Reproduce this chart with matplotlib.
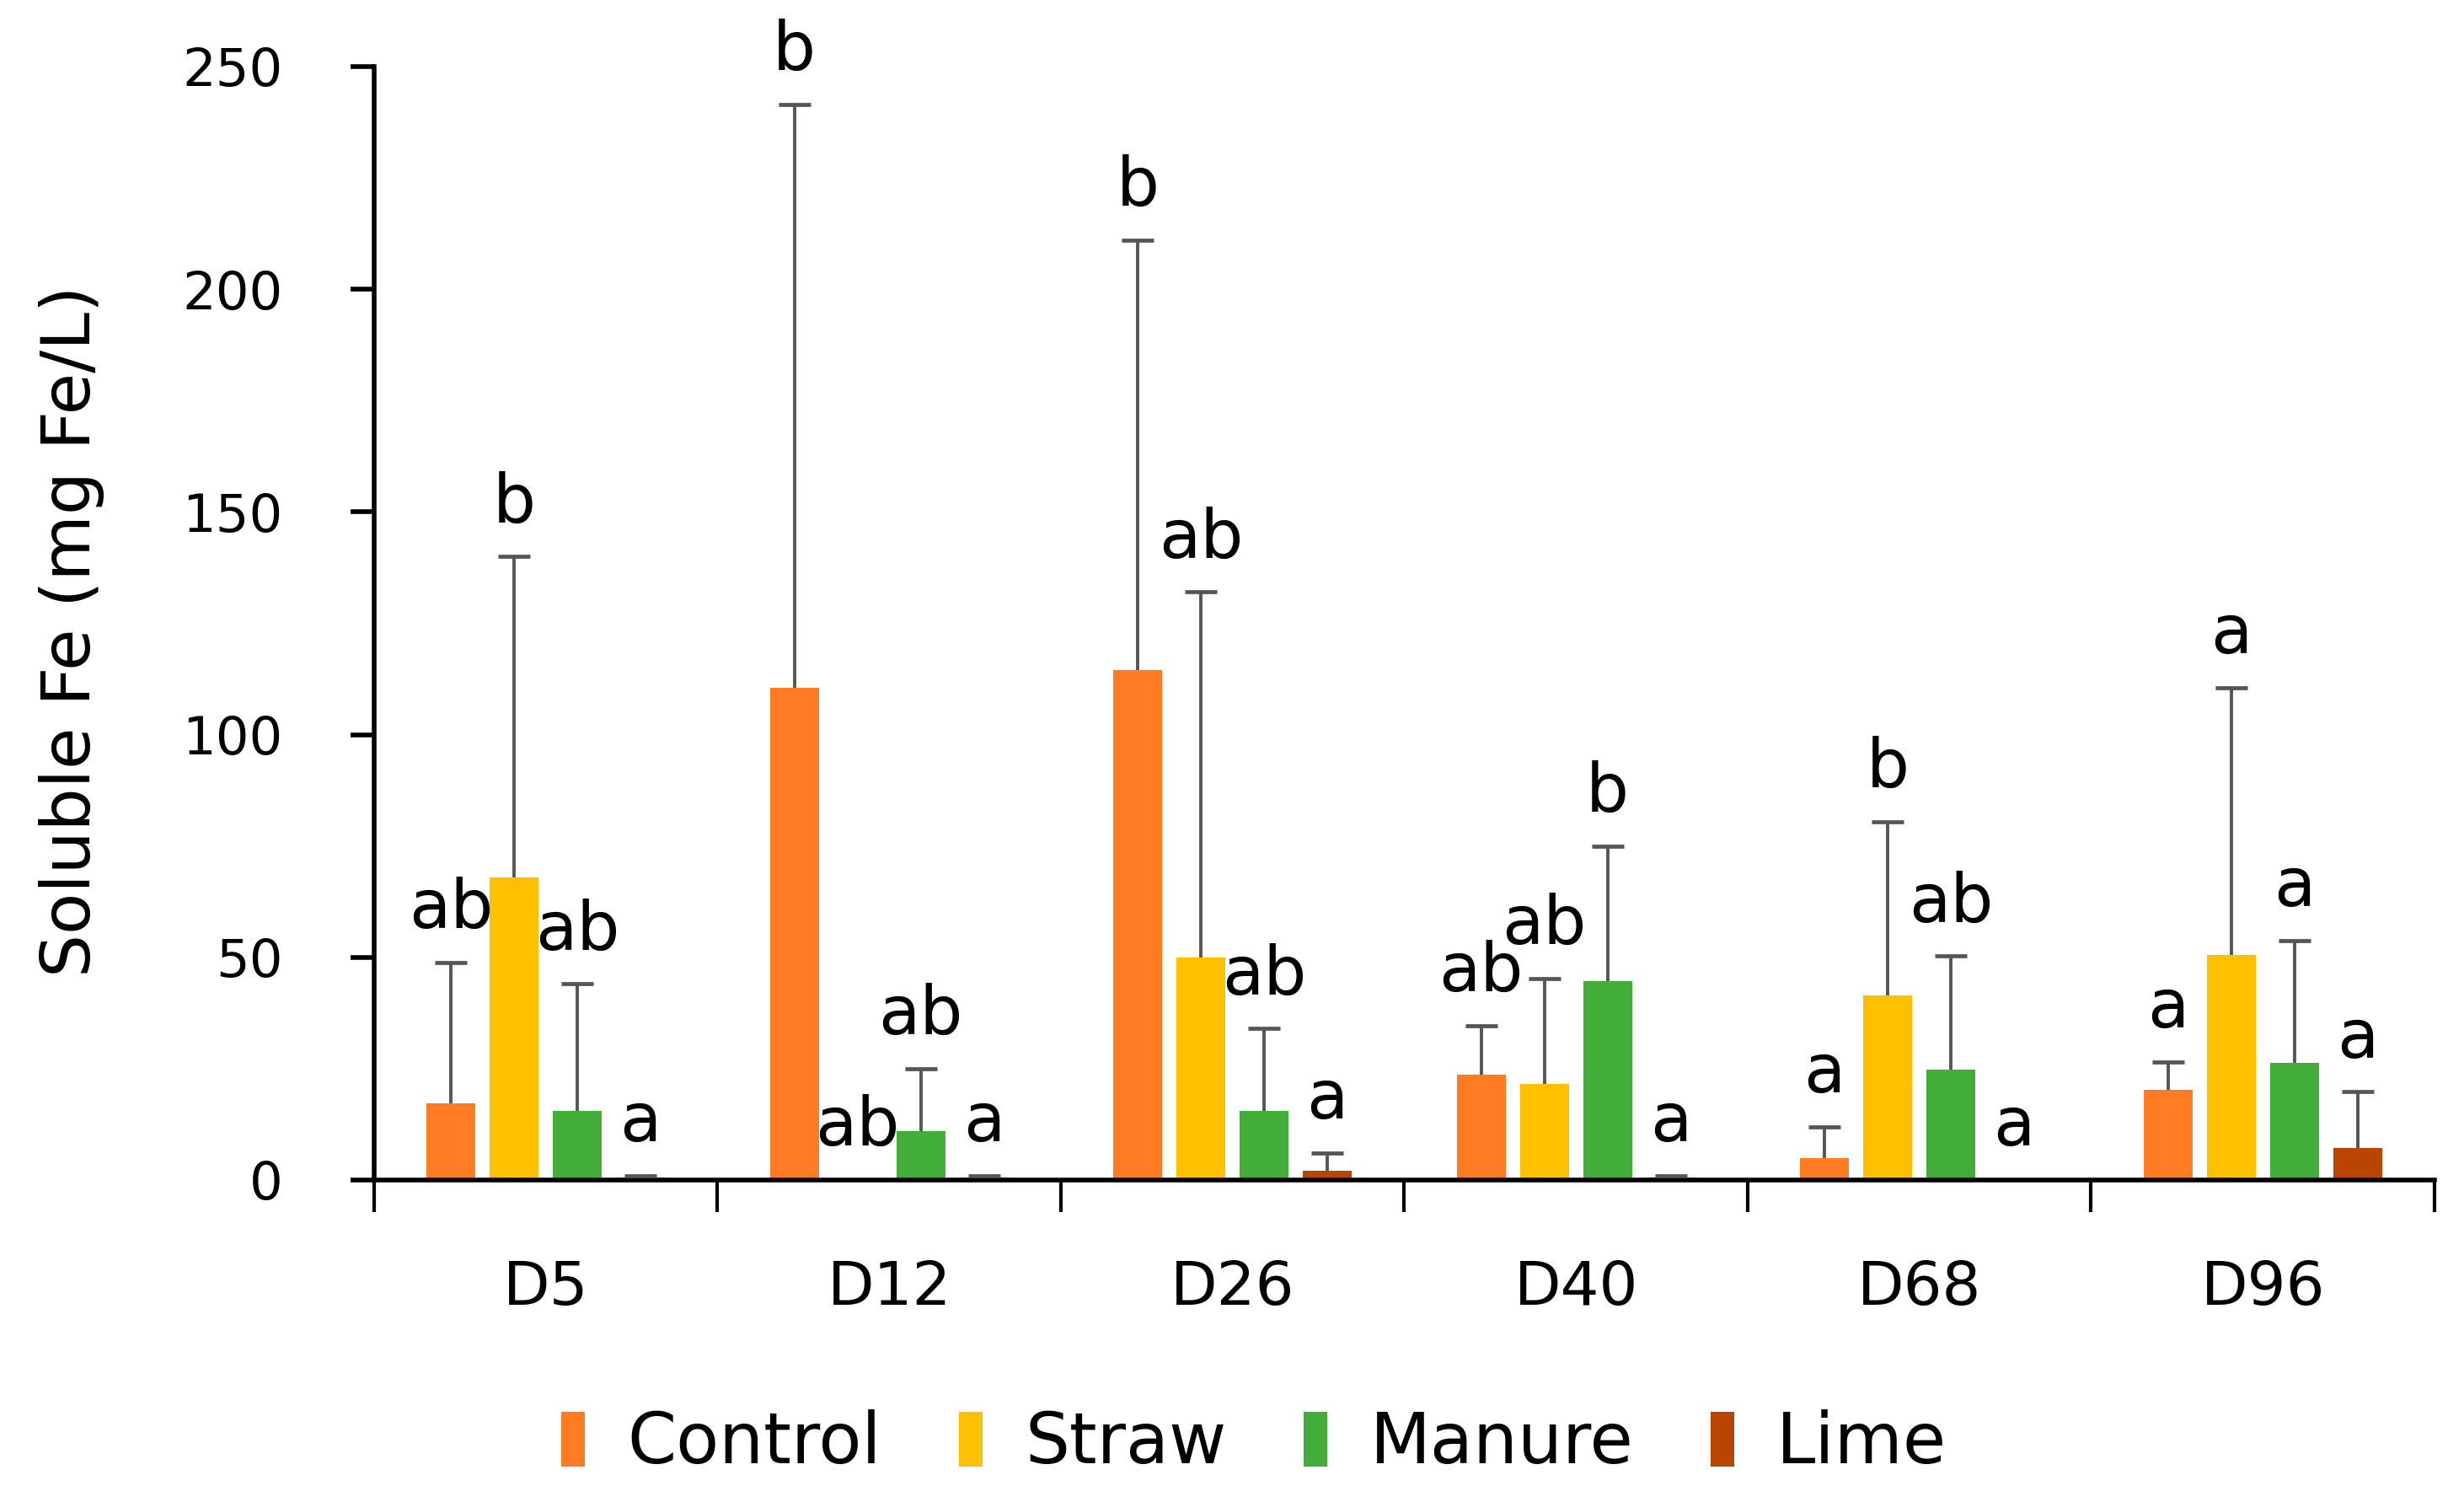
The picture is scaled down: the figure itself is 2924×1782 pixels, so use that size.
import numpy as np
import matplotlib
matplotlib.use("Agg")
import matplotlib.pyplot as plt
from matplotlib.ticker import FixedLocator, NullFormatter

# Sampling days
days = ["D5", "D12", "D26", "D40", "D68", "D96"]
treatments = ["Control", "Straw", "Manure", "Lime"]
colors = ["#FF7C24", "#FFC000", "#42AE39", "#B84600"]

# Mean soluble Fe (mg Fe/L) per treatment, one value per day
control_mean = [17.3, 110.5, 114.4, 23.7, 5.0, 20.2]
straw_mean = [68.0, 0.0, 50.0, 21.6, 41.4, 50.6]
manure_mean = [15.6, 11.0, 15.6, 44.6, 24.8, 26.2]
lime_mean = [0.5, 0.5, 2.0, 0.5, 0.0, 7.1]

# Upper standard deviation
control_sd = [31.5, 131.0, 96.6, 11.0, 7.0, 6.3]
straw_sd = [72.0, 0.0, 82.0, 23.7, 39.0, 59.9]
manure_sd = [28.4, 14.0, 18.4, 30.4, 25.5, 27.6]
lime_sd = [0.5, 0.5, 4.0, 0.5, 0.0, 12.7]

# Significance letters
control_lab = ["ab", "b", "b", "ab", "a", "a"]
straw_lab = ["b", "ab", "ab", "ab", "b", "a"]
manure_lab = ["ab", "ab", "ab", "b", "ab", "a"]
lime_lab = ["a", "a", "a", "a", "a", "a"]

means = [control_mean, straw_mean, manure_mean, lime_mean]
sds = [control_sd, straw_sd, manure_sd, lime_sd]
labels = [control_lab, straw_lab, manure_lab, lime_lab]

fig = plt.figure(figsize=(29.24, 17.82), dpi=100)
ax = fig.add_axes([0.1518, 0.2144, 0.8362, 0.7413])

x = np.arange(len(days))
step = 0.184
width = 0.142
offsets = (np.arange(len(treatments)) - 1.5) * step

for i, name in enumerate(treatments):
  m = np.array(means[i])
  s = np.array(sds[i])
  xpos = x + offsets[i]
  ax.bar(xpos, m, width=width, color=colors[i], label=name, zorder=2)
  has_err = s > 0
  eb = ax.errorbar(xpos[has_err], m[has_err], yerr=[np.zeros(has_err.sum()), s[has_err]],
                   fmt='none', ecolor='#555555', elinewidth=2.8, capsize=14,
                   capthick=3.4, zorder=3)
  # keep only the upper caps
  for cap in eb[1]:
    if np.allclose(cap.get_ydata(), m[has_err]):
      cap.set_visible(False)
  for xi, top, lab in zip(xpos, m + s, labels[i]):
    ax.text(xi, top + 4.5, lab, ha='center', va='bottom', fontsize=58,
            color='black')

ax.set_ylim(0, 250)
ax.set_xlim(-0.5, len(days) - 0.5)
ax.set_yticks([0, 50, 100, 150, 200, 250])
ax.tick_params(axis='y', labelsize=45, length=20, width=4, pad=58, direction='out')

ax.set_xticks(x)
ax.set_xticklabels(days)
ax.xaxis.set_minor_locator(FixedLocator(np.arange(-0.5, len(days), 1.0)))
ax.xaxis.set_minor_formatter(NullFormatter())
ax.tick_params(axis='x', which='major', labelsize=52, length=0, pad=68)
ax.tick_params(axis='x', which='minor', length=27, width=3)

for side in ['top', 'right']:
  ax.spines[side].set_visible(False)
ax.spines['left'].set_linewidth(4)
ax.spines['bottom'].set_linewidth(4)

fig.text(0.029, 0.58, "Soluble Fe (mg Fe/L)", rotation=90, ha='center',
         va='center', fontsize=58)

fig.legend(loc='center', bbox_to_anchor=(0.509, 0.039), ncol=4, frameon=False,
           fontsize=60, handlelength=0.34, handleheight=0.82,
           handletextpad=0.6, columnspacing=1.1)

fig.savefig("out.png", dpi=100)
